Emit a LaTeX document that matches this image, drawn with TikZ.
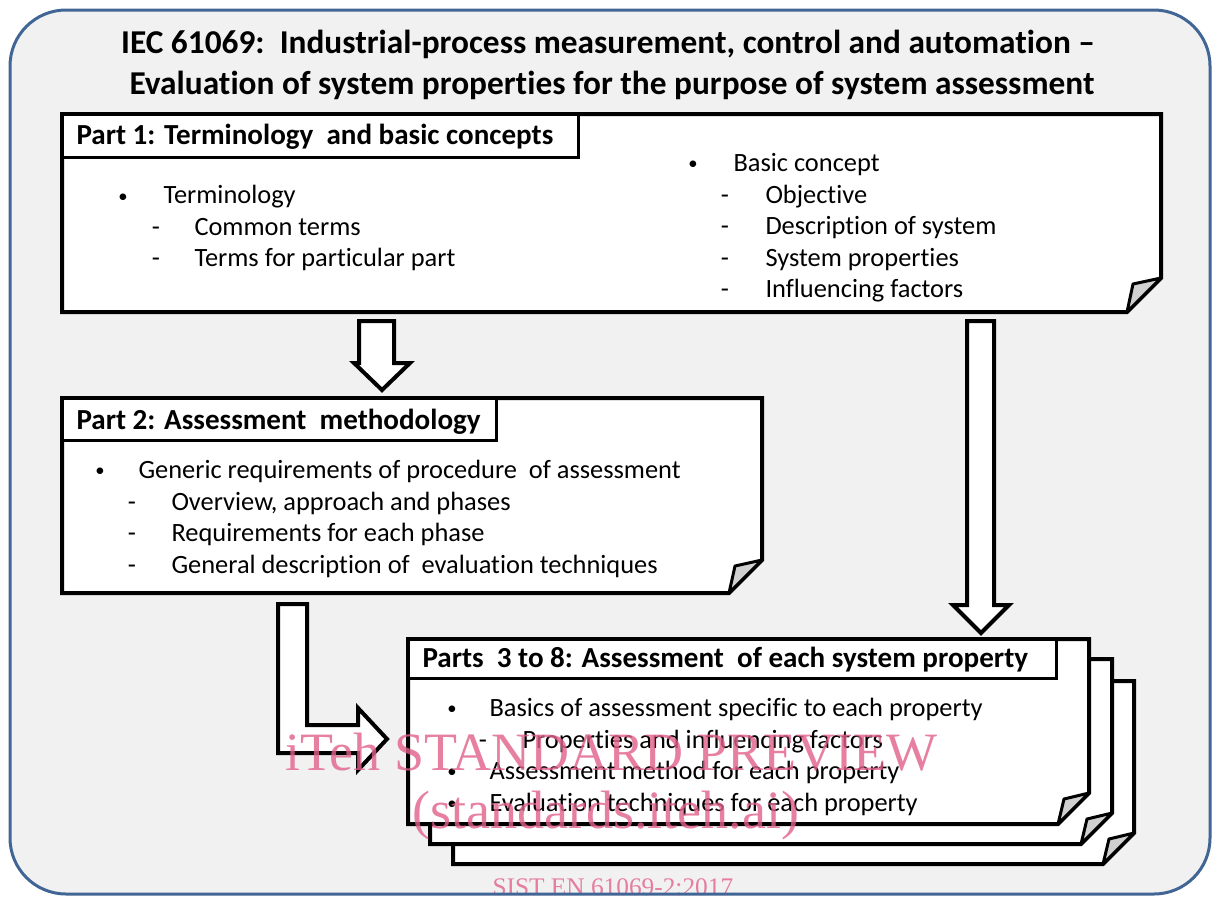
\documentclass[tikz,border=0pt]{standalone}
\usepackage{fontspec}
\setmainfont{Carlito}[Ligatures=NoCommon]
\newfontfamily\wmfont{Liberation Serif}
\usetikzlibrary{positioning}

\definecolor{frameblue}{RGB}{65,101,148}
\definecolor{panelgray}{RGB}{241,241,241}
\definecolor{curlgray}{RGB}{208,208,208}
\definecolor{wmpink}{RGB}{226,96,138}

\tikzset{every picture/.style={line width=0.75pt}}
\tikzset{
  pagebox/.style={draw=black, fill=white, line width=3pt, line join=miter},
  curl/.style={draw=black, fill=curlgray, line width=2.25pt, line join=round},
  tabbox/.style={draw=black, fill=white, line width=2.25pt},
  blockarrow/.style={draw=black, fill=white, line width=3pt, line join=miter},
  headtext/.style={anchor=base, inner sep=0pt, font=\bfseries\fontsize{25}{28}\selectfont},
  tabtext/.style={anchor=base west, inner sep=0pt, font=\bfseries\fontsize{21.8}{24}\selectfont},
  itemtext/.style={anchor=base west, inner sep=0pt, font=\fontsize{19.8}{22}\selectfont},
  itemmark/.style={anchor=base, inner sep=0pt, font=\fontsize{19.8}{22}\selectfont},
  wmtext/.style={anchor=base west, inner sep=0pt, text=wmpink, text opacity=0.8, font=\wmfont\fontsize{40.5}{44}\selectfont},
}

% page with a curled corner: x1,y1,x2,y2,cut
\newcommand{\foldpage}[5]{%
  \draw[pagebox] (#1,#2) -- (#3,#2) -- (#3,{#4-#5}) -- ({#3-#5},#4) -- (#1,#4) -- cycle;
  \draw[curl] ({#3-#5},#4) -- ({#3-#5+6},{#4-#5+6}) -- (#3,{#4-#5}) -- cycle;
}
% small list bullet
\newcommand{\itembul}{{\fontsize{14}{16}\selectfont •}}

\begin{document}
\begin{tikzpicture}[x=0.75pt,y=0.75pt,yscale=-1,xscale=1]
	\useasboundingbox (0,0) rectangle (1212,897);

	%Shape: Rounded Rectangle (panel)
	\fill [panelgray, rounded corners=42pt] (10,10) rectangle (1210,894);

	% Text Node
	\node [headtext] (title1) at (608,53) {IEC 61069:\ \ Industrial-process measurement, control and automation --};
	% Text Node
	\node [headtext] (title2) at (612,94) {Evaluation of system properties for the purpose of system assessment};

	%Shape: Part 1 page
	\foldpage{62}{114}{1161}{312}{34}
	\draw [tabbox] (62,114) rectangle (578,157);
	\node [tabtext] (p1head) at (76,144) {Part 1: Terminology\ \ and basic concepts};

	\node [itemmark] (p1b1) at (123,202) {\itembul};
	\node [itemtext] (p1term) at (163,203) {Terminology};
	\node [itemmark] (p1d1) at (156,235) {-};
	\node [itemtext] (p1common) at (194,235) {Common terms};
	\node [itemmark] (p1d2) at (156,266) {-};
	\node [itemtext] (p1part) at (194,266) {Terms for particular part};

	\node [itemmark] (p1b2) at (693,169) {\itembul};
	\node [itemtext] (p1basic) at (733,171) {Basic concept};
	\node [itemmark] (p1d3) at (725,203) {-};
	\node [itemtext] (p1obj) at (765,203) {Objective};
	\node [itemmark] (p1d4) at (725,234) {-};
	\node [itemtext] (p1desc) at (765,234) {Description of system};
	\node [itemmark] (p1d5) at (725,266) {-};
	\node [itemtext] (p1prop) at (765,266) {System properties};
	\node [itemmark] (p1d6) at (725,297) {-};
	\node [itemtext] (p1infl) at (765,297) {Influencing factors};

	%Shape: Block Arrow (part 1 to part 2)
	\draw [blockarrow] (359,321) -- (394,321) -- (394,363) -- (410,363) -- (382,390) -- (354,363) -- (359,363) -- cycle;
	%Shape: Block Arrow (part 1 to parts 3-8)
	\draw [blockarrow] (967,321) -- (994,321) -- (994,605) -- (1009,605) -- (981,633) -- (953,605) -- (967,605) -- cycle;

	%Shape: Part 2 page
	\foldpage{62}{398}{762}{593}{33}
	\draw [tabbox] (62,398) rectangle (496,440);
	\node [tabtext] (p2head) at (76,429) {Part 2: Assessment\ \ methodology};

	\node [itemmark] (p2b1) at (100,476) {\itembul};
	\node [itemtext] (p2gen) at (138,478) {Generic requirements of procedure\ \ of assessment};
	\node [itemmark] (p2d1) at (132,510) {-};
	\node [itemtext] (p2over) at (171,510) {Overview, approach and phases};
	\node [itemmark] (p2d2) at (132,541) {-};
	\node [itemtext] (p2req) at (171,541) {Requirements for each phase};
	\node [itemmark] (p2d3) at (132,573) {-};
	\node [itemtext] (p2eval) at (171,573) {General description of\ \ evaluation techniques};

	%Shape: L Block Arrow (part 2 to parts 3-8)
	\draw [blockarrow] (278,604) -- (307,604) -- (307,725) -- (358,725) -- (358,708) -- (387,739) -- (358,770) -- (358,753) -- (278,753) -- cycle;

	%Shape: Parts 3-8 pages (back to front)
	\foldpage{453}{681}{1134}{864}{31}
	\foldpage{430}{659}{1112}{844}{31}
	\foldpage{408}{639}{1089}{824}{31}
	\draw [tabbox] (408,639) rectangle (1056,678);
	\node [tabtext] (p3head) at (422,667) {Parts\ \ 3 to 8: Assessment\ \ of each system property};

	\node [itemmark] (p3b1) at (452,714) {\itembul};
	\node [itemtext] (p3basic) at (489,716) {Basics of assessment specific to each property};
	\node [itemmark] (p3d1) at (483,748) {-};
	\node [itemtext] (p3prop) at (522,748) {Properties and influencing factors};
	\node [itemmark] (p3b2) at (452,777) {\itembul};
	\node [itemtext] (p3meth) at (489,779) {Assessment method for each property};
	\node [itemmark] (p3b3) at (452,809) {\itembul};
	\node [itemtext] (p3eval) at (489,811) {Evaluation techniques for each property};

	% Watermark
	\node [wmtext] (wm1) at (285,770) {iTeh STANDARD PREVIEW};
	\node [wmtext] (wm2) at (412,828) {(standards.iteh.ai)};
	\node [wmtext, font=\wmfont\fontsize{19}{22}\selectfont] (wm3) at (492,895) {SIST EN 61069-2:2017};

	%Shape: Rounded Rectangle (panel border)
	\draw [frameblue, line width=2.25pt, rounded corners=42pt] (10,10) rectangle (1210,894);

\end{tikzpicture}
\end{document}
